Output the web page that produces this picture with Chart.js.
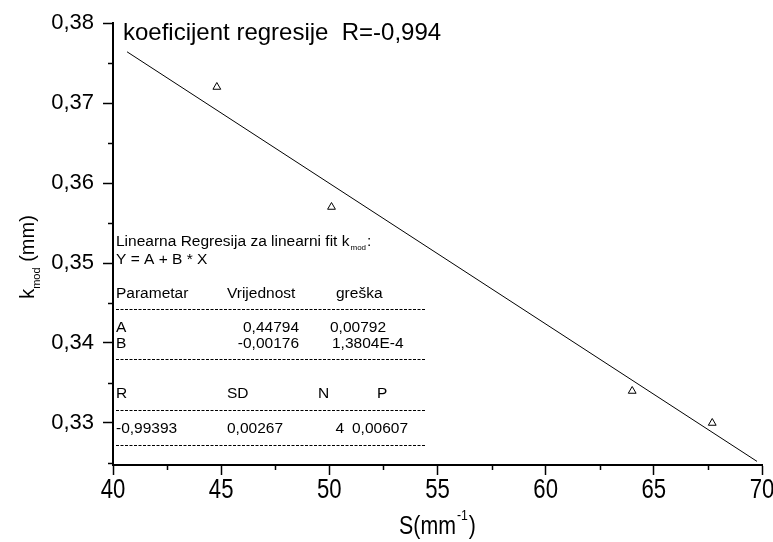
<!DOCTYPE html>
<html>
<head>
<meta charset="utf-8">
<script src="https://cdn.jsdelivr.net/npm/chart.js@4.4.1/dist/chart.umd.min.js"></script>
<style>
  html, body { margin: 0; padding: 0; background: #fff; }
  #wrap { width: 773px; height: 542px; position: relative; }
</style>
</head>
<body>
<div id="wrap"><canvas id="kChart" width="773" height="542"></canvas></div>
<script>
// measured points
const sValues = [44.8, 50.1, 64.0, 67.7];
const kValues = [0.372, 0.357, 0.334, 0.330];

// fitted line, ends
const fitS = [40.65, 69.77];
const fitK = [0.3764, 0.3252];

// axis ticks
const xTicks = [40, 42.5, 45, 47.5, 50, 52.5, 55, 57.5, 60, 62.5, 65, 67.5, 70];
const yTicks = [0.325, 0.33, 0.335, 0.34, 0.345, 0.35, 0.355, 0.36, 0.365, 0.37, 0.375, 0.38];
const xMajor = [40, 45, 50, 55, 60, 65, 70];
const yMajor = [0.33, 0.34, 0.35, 0.36, 0.37, 0.38];

const titleText = 'koeficijent regresije  R=-0,994';

// regression report text (Origin style)
const fitHeader = ['Linearna Regresija za linearni fit k', 'mod', ':'];
const fitFormula = 'Y = A + B * X';
const paramHead = ['Parametar', 'Vrijednost', 'greška'];
const paramRows = [
    ['A', '0,44794', '0,00792'],
    ['B', '-0,00176', '1,3804E-4'],
];
const statHead = ['R', 'SD', 'N', 'P'];
const statRow = ['-0,99393', '0,00267', '4', '0,00607'];

const SANS = '"Liberation Sans", Arial, sans-serif';
const NARROW_X = 0.82; // horizontal squeeze to fake a narrow face

const isMajor = (list, v) => list.some(m => Math.abs(m - v) < 1e-6);

// minor ticks are half length, drawn by hand
const minorTicks = {
    id: 'minorTicks',
    afterDraw(chart) {
        const ctx = chart.ctx;
        const x = chart.scales.x, y = chart.scales.y;
        ctx.save();
        ctx.strokeStyle = '#000';
        ctx.lineWidth = 1.5;
        xTicks.forEach(v => {
            if (isMajor(xMajor, v)) return;
            const px = Math.round(x.getPixelForValue(v)) + 0.5;
            ctx.beginPath();
            ctx.moveTo(px, y.bottom);
            ctx.lineTo(px, y.bottom + 5);
            ctx.stroke();
        });
        yTicks.forEach(v => {
            if (isMajor(yMajor, v)) return;
            const py = Math.round(y.getPixelForValue(v)) + 0.5;
            ctx.beginPath();
            ctx.moveTo(x.left, py);
            ctx.lineTo(x.left - 5, py);
            ctx.stroke();
        });
        ctx.restore();
    }
};

// squeezed text helper
function narrowText(ctx, str, x, y, size, align) {
    ctx.save();
    ctx.font = size + 'px ' + SANS;
    const w = ctx.measureText(str).width * NARROW_X;
    let left = x;
    if (align === 'center') left = x - w / 2;
    ctx.translate(left, y);
    ctx.scale(NARROW_X, 1);
    ctx.textAlign = 'left';
    ctx.fillText(str, 0, 0);
    ctx.restore();
    return w;
}

// titles, x labels and the fit report
const textLayer = {
    id: 'textLayer',
    afterDraw(chart) {
        const ctx = chart.ctx;
        const area = chart.chartArea;
        const xs = chart.scales.x;
        ctx.save();
        ctx.fillStyle = '#000';
        ctx.textBaseline = 'alphabetic';

        // x tick labels
        xMajor.forEach(v => {
            narrowText(ctx, String(v), xs.getPixelForValue(v), 498, 27, 'center');
        });

        // top caption
        ctx.font = '24px ' + SANS;
        ctx.textAlign = 'left';
        ctx.fillText(titleText, 123, 40);

        // x axis title S(mm^-1)
        ctx.font = '26px ' + SANS;
        const w1 = ctx.measureText('S(mm').width * NARROW_X;
        ctx.font = '15px ' + SANS;
        const w2 = ctx.measureText('-1').width * NARROW_X;
        ctx.font = '26px ' + SANS;
        const w3 = ctx.measureText(')').width * NARROW_X;
        const cx = (area.left + area.right) / 2;
        const sx = cx - (w1 + w2 + w3 + 2) / 2;
        narrowText(ctx, 'S(mm', sx, 534, 26);
        narrowText(ctx, '-1', sx + w1 + 1, 520, 15);
        narrowText(ctx, ')', sx + w1 + w2 + 2, 534, 26);

        // y axis title k_mod (mm)
        ctx.save();
        ctx.translate(34, 257);
        ctx.rotate(-Math.PI / 2);
        ctx.font = '20px ' + SANS;
        const a = ctx.measureText('k').width;
        ctx.font = '11px ' + SANS;
        const b = ctx.measureText('mod').width;
        ctx.font = '20px ' + SANS;
        const c = ctx.measureText(' (mm)').width;
        const start = -(a + b + c) / 2;
        ctx.fillText('k', start, 0);
        ctx.font = '11px ' + SANS;
        ctx.fillText('mod', start + a, 6);
        ctx.font = '20px ' + SANS;
        ctx.fillText(' (mm)', start + a + b, 0);
        ctx.restore();

        // regression report
        const L = 116;
        ctx.font = '15.5px ' + SANS;
        const hw = ctx.measureText(fitHeader[0]).width;
        ctx.fillText(fitHeader[0], L, 246);
        ctx.font = '8px ' + SANS;
        const mw = ctx.measureText(fitHeader[1]).width;
        ctx.fillText(fitHeader[1], L + hw + 1, 250);
        ctx.font = '15.5px ' + SANS;
        ctx.fillText(fitHeader[2], L + hw + mw + 2, 246);
        ctx.fillText(fitFormula, L, 264);

        ctx.fillText(paramHead[0], L, 298);
        ctx.fillText(paramHead[1], 227, 298);
        ctx.fillText(paramHead[2], 336, 298);

        ctx.fillText(paramRows[0][0], L, 332);
        ctx.fillText(paramRows[1][0], L, 348);
        ctx.textAlign = 'right';
        ctx.fillText(paramRows[0][1], 299, 332);
        ctx.fillText(paramRows[1][1], 299, 348);
        ctx.textAlign = 'left';
        ctx.fillText(paramRows[0][2], 330, 332);
        ctx.fillText(paramRows[1][2], 332, 348);

        ctx.fillText(statHead[0], L, 398);
        ctx.fillText(statHead[1], 227, 398);
        ctx.fillText(statHead[2], 318, 398);
        ctx.fillText(statHead[3], 377, 398);

        ctx.fillText(statRow[0], L, 433);
        ctx.fillText(statRow[1], 227, 433);
        ctx.textAlign = 'right';
        ctx.fillText(statRow[2], 344, 433);
        ctx.textAlign = 'left';
        ctx.fillText(statRow[3], 352, 433);

        // dashed separators
        ctx.strokeStyle = '#000';
        ctx.lineWidth = 1;
        ctx.setLineDash([3, 1.5]);
        [309.5, 359.5, 410.5, 445.5].forEach(yy => {
            ctx.beginPath();
            ctx.moveTo(116, yy);
            ctx.lineTo(425, yy);
            ctx.stroke();
        });
        ctx.restore();
    }
};

const ctx = document.getElementById('kChart').getContext('2d');
new Chart(ctx, {
    type: 'scatter',
    data: {
        datasets: [
            {
                label: 'k_mod',
                data: sValues.map((s, i) => ({ x: s, y: kValues[i] })),
                pointStyle: 'triangle',
                pointRadius: 4.5,
                pointBorderWidth: 1,
                borderColor: '#000',
                backgroundColor: '#fff',
                showLine: false,
            },
            {
                label: 'fit',
                data: fitS.map((s, i) => ({ x: s, y: fitK[i] })),
                showLine: true,
                borderColor: '#000',
                borderWidth: 1,
                pointRadius: 0,
                fill: false,
            },
        ],
    },
    options: {
        responsive: false,
        animation: false,
        devicePixelRatio: 1,
        layout: { padding: { left: 0, top: 23, right: 11, bottom: 0 } },
        plugins: {
            legend: { display: false },
            tooltip: { enabled: false },
        },
        scales: {
            x: {
                type: 'linear',
                min: 40,
                max: 70,
                afterBuildTicks: scale => { scale.ticks = xMajor.map(v => ({ value: v })); },
                afterFit: scale => { scale.height = 77; },
                grid: {
                    drawOnChartArea: false,
                    tickLength: 10,
                    tickWidth: 1.5,
                    tickColor: '#000',
                },
                border: { display: true, color: '#000', width: 2 },
                ticks: {
                    color: 'rgba(0,0,0,0)',
                    padding: 2,
                    maxRotation: 0,
                    font: { family: SANS, size: 14 },
                    callback: v => String(v),
                },
            },
            y: {
                type: 'linear',
                min: 0.32475,
                max: 0.38,
                afterBuildTicks: scale => { scale.ticks = yMajor.map(v => ({ value: v })); },
                afterFit: scale => { scale.width = 113; },
                grid: {
                    drawOnChartArea: false,
                    tickLength: 10,
                    tickWidth: 1.5,
                    tickColor: '#000',
                },
                border: { display: true, color: '#000', width: 2 },
                ticks: {
                    color: '#000',
                    padding: 9,
                    font: { family: SANS, size: 22 },
                    callback: v => v.toFixed(2).replace('.', ','),
                },
            },
        },
    },
    plugins: [minorTicks, textLayer],
});
</script>
</body>
</html>
